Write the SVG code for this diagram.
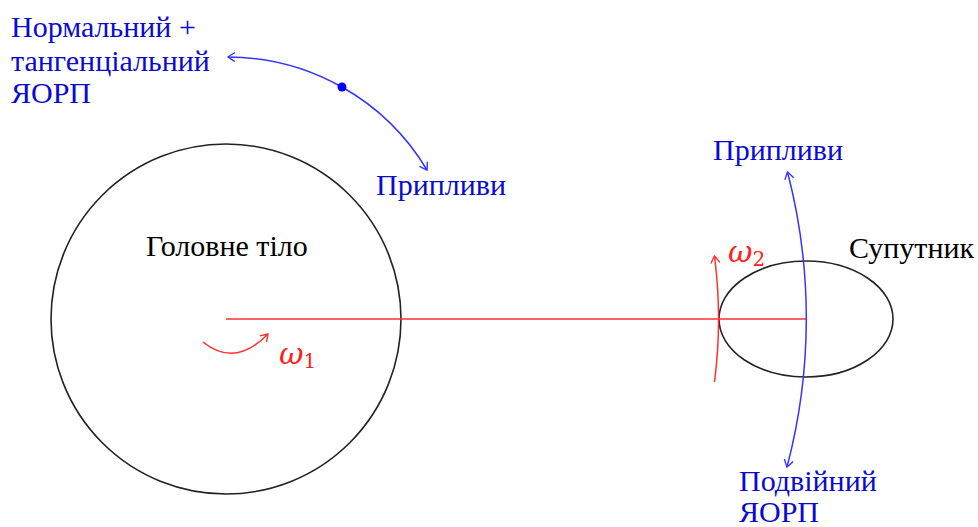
<svg xmlns="http://www.w3.org/2000/svg" width="978" height="527" viewBox="0 0 978 527">
<style>
.body{fill:none;stroke:#222;stroke-width:1.6}
.blue{fill:none;stroke:#3535ff;stroke-width:1.5}
.red{fill:none;stroke:#ff3030;stroke-width:1.5}
.tb{font-family:"Liberation Serif","DejaVu Serif",serif;font-size:30px;fill:#0a0ad0}
.tk{font-family:"Liberation Serif","DejaVu Serif",serif;font-size:30px;fill:#000}
.om{font-family:"DejaVu Serif","Liberation Serif",serif;font-style:italic;fill:#ff2020}
</style>
<defs>
<marker id="ab" viewBox="-10 -6 12 12" refX="0" refY="0" markerWidth="12" markerHeight="12" markerUnits="userSpaceOnUse" orient="auto-start-reverse">
<path d="M -7 -4.5 Q -2 -1.5 0 0 Q -2 1.5 -7 4.5" fill="none" stroke="#3535ff" stroke-width="1.4"/>
</marker>
<marker id="ar" viewBox="-10 -6 12 12" refX="0" refY="0" markerWidth="12" markerHeight="12" markerUnits="userSpaceOnUse" orient="auto-start-reverse">
<path d="M -7 -4.5 Q -2 -1.5 0 0 Q -2 1.5 -7 4.5" fill="none" stroke="#ff3030" stroke-width="1.4"/>
</marker>
</defs>
<g id="main-body">
<circle class="body" cx="226" cy="319" r="175"/>
<text class="tk" x="146" y="256">Головне тіло</text>
</g>
<g id="satellite">
<ellipse class="body" cx="806" cy="319" rx="87" ry="58"/>
<text class="tk" x="849" y="258">Супутник</text>
</g>
<g id="connectors">
<line class="red" x1="226" y1="319" x2="806" y2="319"/>
<path class="red" d="M 203 342 Q 235 368 268 334" marker-end="url(#ar)"/>
<path class="red" d="M 714.5 382 A 493 493 0 0 0 714.5 256" marker-end="url(#ar)"/>
<path class="blue" d="M 787 467 A 580 580 0 0 0 787.5 172" marker-start="url(#ab)" marker-end="url(#ab)"/>
<path class="blue" d="M 228 57 A 232 232 0 0 1 427 170" marker-start="url(#ab)" marker-end="url(#ab)"/>
<circle cx="342" cy="87" r="4.5" fill="#0000ff"/>
</g>
<g id="labels">
<text class="tb" x="11" y="37">Нормальний +</text>
<text class="tb" x="11" y="71">тангенціальний</text>
<text class="tb" x="11" y="103">ЯОРП</text>
<text class="tb" x="376" y="195">Припливи</text>
<text class="tb" x="713" y="160">Припливи</text>
<text class="tb" x="739" y="491">Подвійний</text>
<text class="tb" x="739" y="522">ЯОРП</text>
<text class="om" x="279" y="364" font-size="30">ω<tspan font-size="20" font-style="normal" dy="4">1</tspan></text>
<text class="om" x="728" y="262" font-size="30">ω<tspan font-size="20" font-style="normal" dy="4">2</tspan></text>
</g>
</svg>
